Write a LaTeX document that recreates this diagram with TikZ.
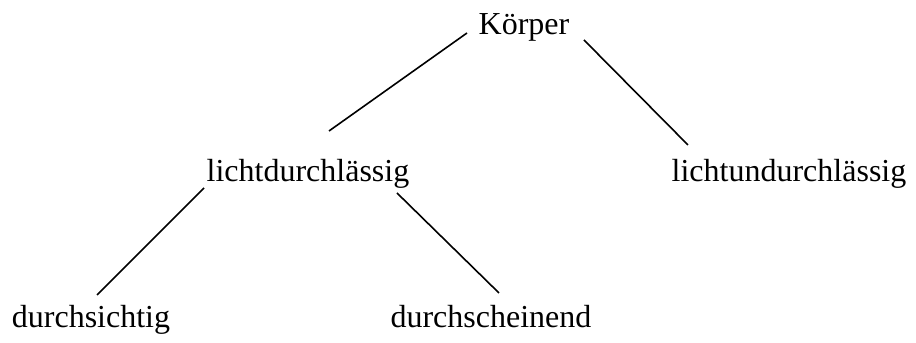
\documentclass[tikz,border=0pt]{standalone}
\usepackage{fontspec}
\setmainfont{Liberation Serif}
\usetikzlibrary{positioning}

\begin{document}
\begin{tikzpicture}[x=0.375pt, y=-0.375pt, every node/.style={anchor=base, inner sep=0pt, font=\fontsize{12}{14}\selectfont}]
                        \useasboundingbox (0, 0) rectangle (916, 343);
                        \node (k) at (524, 35) {Körper};
                        \node (ld) at (308, 182) {lichtdurchlässig};
                        \node (lu) at (789, 182) {lichtundurchlässig};
                        \node (ds) at (91, 328) {durchsichtig};
                        \node (dsc) at (491, 328) {durchscheinend};

                        \draw[line width=0.6pt]
                        ([shift={(-57, -2)}]k.base) -- ([shift={(21, -51)}]ld.base)
                        ([shift={(60, 5)}]k.base) -- ([shift={(-101, -37)}]lu.base)
                        ([shift={(-104, 6)}]ld.base) -- ([shift={(6, -33)}]ds.base)
                        ([shift={(89, 11)}]ld.base) -- ([shift={(8, -35)}]dsc.base);
                    \end{tikzpicture}
\end{document}
